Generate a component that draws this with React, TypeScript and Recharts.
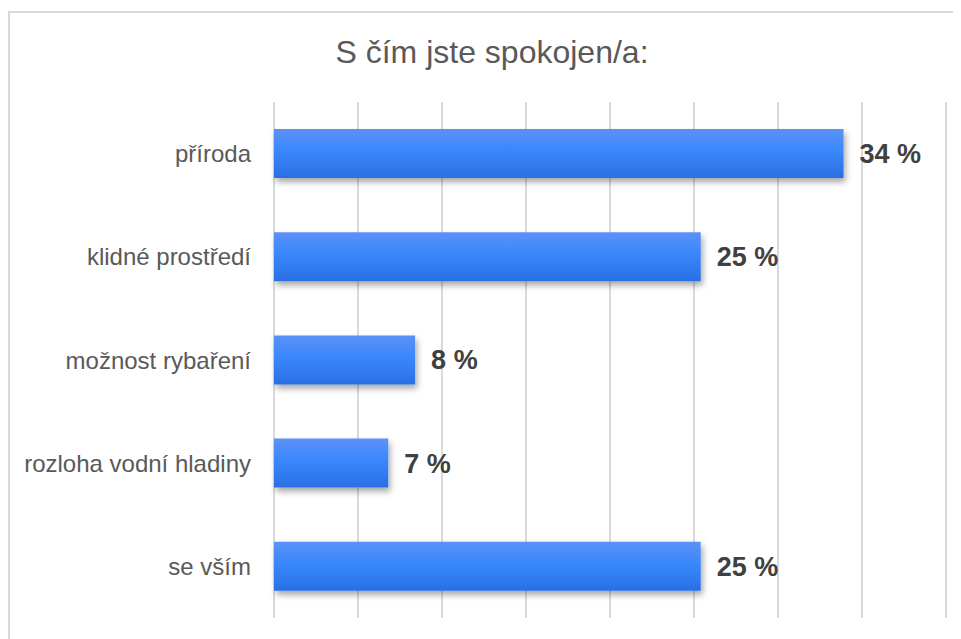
import { BarChart, Bar, XAxis, YAxis, CartesianGrid, LabelList } from 'recharts';

const categories = ['příroda', 'klidné prostředí', 'možnost rybaření', 'rozloha vodní hladiny', 'se vším'];
const shares = [33.9, 25.4, 8.4, 6.8, 25.4];
const xTicks = [0, 5, 10, 15, 20, 25, 30, 35, 40];

const data = categories.map((name, i) => ({ name, value: shares[i] }));

const FONT = '"Liberation Sans", Arial, sans-serif';

export default function App() {
  return (
    <div
      style={{
        position: 'relative',
        marginTop: 3,
        width: 960,
        height: 640,
        border: '2px solid #d9d9d9',
        boxSizing: 'border-box',
        fontFamily: FONT,
      }}
    >
      <div
        style={{
          position: 'absolute',
          left: 0,
          top: 21,
          width: 964,
          textAlign: 'center',
          fontSize: 32,
          lineHeight: '37px',
          color: '#595959',
        }}
      >
        S čím jste spokojen/a:
      </div>
      <BarChart
        width={950}
        height={626}
        data={data}
        layout="vertical"
        barSize={49}
        margin={{ top: 89, right: 14, bottom: 21, left: 0 }}
        style={{ position: 'absolute', left: 0, top: 0 }}
      >
        <defs>
          <linearGradient id="barFill" x1="0" y1="0" x2="0" y2="1">
            <stop offset="0%" stopColor="#5c91f7" />
            <stop offset="45%" stopColor="#3987fd" />
            <stop offset="100%" stopColor="#2a6fe3" />
          </linearGradient>
          <filter id="barShadow" x="-10%" y="-30%" width="130%" height="180%">
            <feDropShadow dx="2" dy="4" stdDeviation="3" floodColor="#000" floodOpacity="0.35" />
          </filter>
        </defs>
        <CartesianGrid horizontal={false} stroke="#d9d9d9" strokeWidth={2} />
        <XAxis type="number" domain={[0, 40]} ticks={xTicks} hide />
        <YAxis
          type="category"
          dataKey="name"
          width={264}
          axisLine={false}
          tickLine={false}
          tickSize={0}
          tickMargin={23}
          tick={{ fontSize: 24, fill: '#595959', fontFamily: FONT }}
        />
        <Bar dataKey="value" fill="url(#barFill)" filter="url(#barShadow)" isAnimationActive={false}>
          <LabelList
            dataKey="value"
            position="right"
            offset={16}
            formatter={(v: number) => `${Math.round(v)} %`}
            style={{ fontSize: 27, fontWeight: 'bold', fill: '#404040', fontFamily: FONT }}
          />
        </Bar>
      </BarChart>
    </div>
  );
}
